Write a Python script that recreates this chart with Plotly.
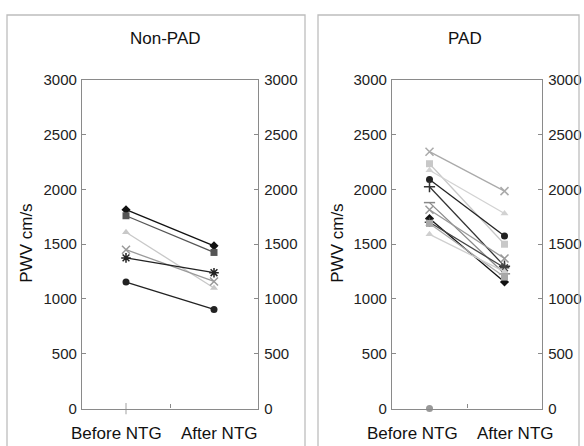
import plotly.graph_objects as go

categories = ["Before NTG", "After NTG"]
y_ticks = [0, 500, 1000, 1500, 2000, 2500, 3000]

nonpad_before = [1815, 1760, 1610, 1450, 1375, 1155, 0]
nonpad_after = [1485, 1425, 1100, 1160, 1240, 905, None]

pad_before = [2345, 2235, 2175, 2090, 2025, 1880, 1815, 1735, 1700, 1690, 1590, 0]
pad_after = [1985, 1500, 1780, 1575, 1300, 1230, 1370, 1155, 1285, 1200, 1250, None]

# styles
nonpad_symbols = ["diamond", "square", "triangle-up", "x-thin-open", "asterisk-open", "circle", "line-ns-open"]
nonpad_colors = ["#111111", "#555555", "#c8c8c8", "#9a9a9a", "#222222", "#222222", "#c0c0c0"]
pad_symbols = ["x-thin-open", "square", "triangle-up", "circle", "cross-thin-open", "line-ew-open",
               "x-thin-open", "diamond", "asterisk-open", "square", "triangle-up", "circle"]
pad_colors = ["#aaaaaa", "#c8c8c8", "#d2d2d2", "#222222", "#333333", "#888888",
              "#999999", "#111111", "#444444", "#a8a8a8", "#cfcfcf", "#999999"]

W, H = 584, 446
fig = go.Figure()


def add_series(before, after, symbols, colors, xa, ya):
    for b, a, s, c in zip(before, after, symbols, colors):
        open_sym = s.endswith("-open")
        fig.add_trace(go.Scatter(
            x=categories, y=[b, a], mode="lines+markers",
            xaxis=xa, yaxis=ya, showlegend=False, cliponaxis=False,
            line=dict(color=c, width=1.3),
            marker=dict(symbol=s, size=7 if not open_sym else 8, color=c,
                        line=dict(color=c, width=1.5 if open_sym else 0)),
        ))


add_series(nonpad_before, nonpad_after, nonpad_symbols, nonpad_colors, "x", "y")
add_series(pad_before, pad_after, pad_symbols, pad_colors, "x2", "y3")
# invisible traces to anchor the right-side axes
fig.add_trace(go.Scatter(x=categories, y=[None, None], xaxis="x", yaxis="y2", showlegend=False, hoverinfo="skip"))
fig.add_trace(go.Scatter(x=categories, y=[None, None], xaxis="x2", yaxis="y4", showlegend=False, hoverinfo="skip"))


def px_x(p):
    return p / W


def px_y(p):
    # vertical calibration of the capture
    q = (p - 8) / 0.963
    return 1 - q / H


ydom = [px_y(408), px_y(79)]
dom1 = [px_x(82), px_x(258)]
dom2 = [px_x(392), px_x(542)]

axis_line = "#8a8a8a"
tickfont = dict(family="Arial, Liberation Sans, sans-serif", size=15, color="#222222")

xcommon = dict(type="category", range=[-0.5, 1.5], showgrid=False, zeroline=False,
               showline=True, linecolor=axis_line, linewidth=1.3, mirror=True,
               tickson="boundaries", ticks="inside", ticklen=4, tickcolor=axis_line,
               showticklabels=False, fixedrange=True)
yleft = dict(range=[0, 3000], tickvals=y_ticks, showgrid=False, zeroline=False,
             showline=True, linecolor=axis_line, linewidth=1.3, ticks="inside", ticklen=4,
             tickcolor=axis_line, tickfont=tickfont, ticklabelstandoff=1)
yright = dict(range=[0, 3000], tickvals=y_ticks, showgrid=False, zeroline=False,
              showline=True, linecolor=axis_line, linewidth=1.3, ticks="inside", ticklen=4,
              tickcolor=axis_line, tickfont=tickfont, side="right", ticklabelstandoff=2)

fig.update_layout(
    width=W, height=H, margin=dict(l=0, r=0, t=0, b=0),
    paper_bgcolor="white", plot_bgcolor="white",
    xaxis=dict(domain=dom1, anchor="y", **xcommon),
    yaxis=dict(domain=ydom, anchor="x", **yleft),
    yaxis2=dict(anchor="x", overlaying="y", **yright),
    xaxis2=dict(domain=dom2, anchor="y3", **xcommon),
    yaxis3=dict(domain=ydom, anchor="x2", **yleft),
    yaxis4=dict(anchor="x2", overlaying="y3", **yright),
)

# panel frames
for x0, x1 in [(7, 305), (318, 579)]:
    fig.add_shape(type="rect", xref="paper", yref="paper",
                  x0=px_x(x0), x1=px_x(x1), y0=-0.05, y1=px_y(14),
                  line=dict(color="#bdbdbd", width=1.3), fillcolor="rgba(0,0,0,0)")

font = dict(family="Arial, Liberation Sans, sans-serif", size=17, color="#111111")
annos = [
    ("Non-PAD", 165, 38, 0),
    ("PAD", 465, 38, 0),
    ("PWV cm/s", 27, 243, -90),
    ("PWV cm/s", 338, 243, -90),
    (categories[0], 116, 433, 0),
    (categories[1], 219, 433, 0),
    (categories[0], 412, 433, 0),
    (categories[1], 515, 433, 0),
]
for text, x, y, ang in annos:
    fig.add_annotation(text=text, xref="paper", yref="paper", x=px_x(x), y=px_y(y),
                       xanchor="center", yanchor="middle", showarrow=False,
                       textangle=ang, font=font)

fig.write_html("out.html", config={"displayModeBar": False},
               post_script="document.body.style.margin='0';document.body.style.overflow='hidden';")
